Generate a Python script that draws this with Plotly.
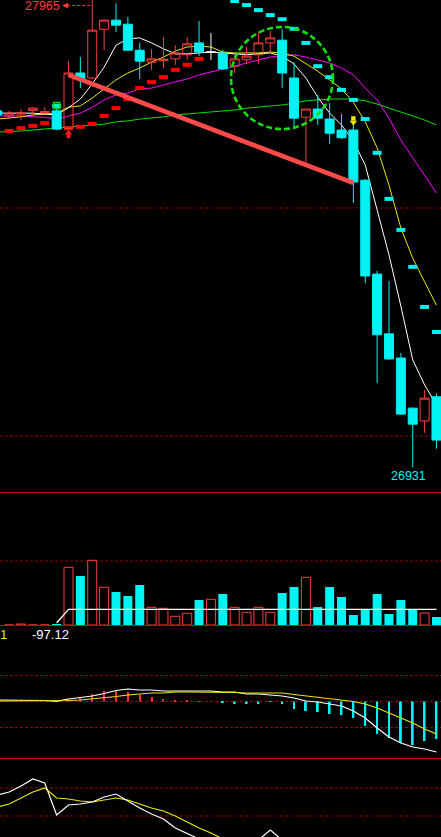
import plotly.graph_objects as go

# ---------------- data ----------------
IDX = list(range(-6, 32))

OPEN = [27713, 27702, 27706, 27714, 27709, 27713,
        27675, 27796, 27785, 27892, 27912, 27903, 27846, 27820, 27823, 27827,
        27836, 27862, 27842, 27840, 27811, 27825, 27836, 27862, 27868, 27785,
        27699, 27717, 27695, 27671, 27671, 27561, 27355, 27224, 27171, 27061,
        27033, 27086]
HIGH = [27715, 27713, 27717, 27721, 27721, 27717,
        27822, 27831, 27965, 27914, 27949, 27919, 27862, 27849, 27875, 27857,
        27875, 27910, 27884, 27847, 27836, 27853, 27884, 27888, 27892, 27820,
        27717, 27748, 27730, 27706, 27682, 27563, 27362, 27340, 27182, 27063,
        27101, 27094]
LOW = [27702, 27695, 27693, 27700, 27708, 27671,
       27673, 27763, 27783, 27846, 27886, 27845, 27783, 27803, 27807, 27814,
       27825, 27833, 27825, 27803, 27796, 27816, 27816, 27840, 27763, 27678,
       27599, 27682, 27640, 27652, 27511, 27335, 27116, 27167, 27046, 26931,
       27007, 26972]
CLOSE = [27704, 27708, 27708, 27719, 27711, 27673,
         27796, 27783, 27890, 27912, 27901, 27846, 27822, 27827, 27826, 27840,
         27860, 27842, 27842, 27805, 27827, 27833, 27862, 27873, 27796, 27697,
         27717, 27697, 27664, 27654, 27557, 27351, 27222, 27169, 27048, 27026,
         27083, 26991]

MA5 = [27708, 27708, 27708, 27708, 27706, 27704,
       27720, 27739, 27772, 27809, 27857, 27871, 27873, 27862, 27849, 27838,
       27838, 27840, 27842, 27840, 27838, 27836, 27838, 27840, 27833, 27816,
       27785, 27743, 27708, 27682, 27647, 27594, 27496, 27397, 27285, 27167,
       27112, 27068]
MA10 = [27695, 27697, 27700, 27704, 27706, 27708,
        27721, 27724, 27741, 27761, 27781, 27796, 27807, 27820, 27831, 27844,
        27853, 27855, 27853, 27842, 27840, 27840, 27840, 27842, 27840, 27833,
        27816, 27800, 27781, 27761, 27732, 27689, 27632, 27550, 27456, 27390,
        27338, 27287]
MA20 = [27702, 27702, 27702, 27700, 27699, 27695,
        27701, 27708, 27721, 27737, 27748, 27752, 27761, 27763, 27770, 27776,
        27783, 27792, 27798, 27805, 27811, 27818, 27825, 27831, 27833, 27836,
        27831, 27825, 27818, 27807, 27792, 27763, 27737, 27697, 27649, 27610,
        27572, 27533]
MA60 = [27667, 27667, 27669, 27671, 27673, 27675,
        27678, 27680, 27682, 27684, 27689, 27691, 27695, 27697, 27700, 27704,
        27706, 27708, 27711, 27713, 27715, 27719, 27721, 27724, 27726, 27730,
        27735, 27737, 27739, 27739, 27739, 27735, 27728, 27719, 27711, 27702,
        27693, 27682]
SAR = [None, 27669, 27675, 27680, 27686, 27724,
       27675, 27678, 27684, 27702, 27719, 27739, 27763, 27776, 27787, 27803,
       27814, 27827, None, None, 27954, 27945, 27934, 27923, 27914, 27893,
       27862, 27811, 27787, 27759, 27737, 27695, 27621, 27520, 27452, 27371,
       27283, 27228]

VOL = [0, 0, 100, 0, 0, 100,
       5770, 4900, 6470, 3770, 3300, 2900, 4000, 1770, 1670, 870,
       1170, 2500, 2570, 3100, 1770, 1270, 1770, 1270, 3200, 3800,
       4770, 1800, 3800, 2800, 1000, 1570, 3100, 1100, 2500, 1570,
       1200, 800]
VOL_MA = [None, None, None, None, None, 200,
          1570, 1570, 1570, 1570, 1570, 1570, 1570, 1570, 1570, 1570,
          1570, 1570, 1570, 1570, 1570, 1570, 1570, 1570, 1570, 1570,
          1570, 1570, 1570, 1570, 1570, 1570, 1570, 1570, 1570, 1570,
          1570, 1570]

DIF = [3.9, 3.9, 3.9, 3.9, 2.6, 0.5,
       6.5, 10.4, 14.2, 20.7, 28.5, 32.4, 29.8, 29.8, 27.2, 27.2,
       27.2, 27.2, 27.2, 24.6, 24.6, 19.4, 19.4, 16.8, 14.2, 9.1,
       1.3, -1.3, -6.5, -11.7, -24.6, -42.7, -68.6, -91.9, -107.5, -117.9,
       -123.0, -130.8]
DEA = [1.3, 1.3, 1.3, 1.3, 1.3, 1.3,
       2.6, 3.9, 6.5, 10.4, 12.9, 16.8, 19.4, 22.0, 22.0, 24.6,
       24.6, 24.6, 24.6, 24.6, 23.3, 22.0, 22.0, 22.0, 22.0, 18.1,
       14.2, 11.7, 7.8, 3.9, 0.0, -6.5, -16.8, -29.8, -42.7, -55.7,
       -71.2, -84.2]
MACD = [0, 0, 0, 0, 0, 0,
        5.7, 10.9, 19.4, 27.2, 29.8, 24.6, 17.6, 11.7, 6.5, 3.9,
        3.9, 1.3, 0, -3.9, -6.5, -6.5, -6.5, -1.3, -6.5, -19.4,
        -24.6, -27.2, -32.4, -35.0, -42.7, -63.5, -84.2, -94.5, -107.5, -112.7,
        -102.3, -97.12]

K = [65.0, 71.4, 84.3, 99.3, 90.7, 22.1,
     43.6, 45.7, 50.0, 60.7, 67.1, 52.1, 37.1, 24.3, 13.6, -5.7,
     -16.4, -29.3] + [None] * 20
D = [39.3, 45.7, 58.6, 71.4, 80.0, 58.6,
     56.4, 52.1, 50.0, 54.3, 58.6, 54.3, 45.7, 37.1, 30.7, 20.0,
     7.1, -5.7, -16.4, -29.3] + [None] * 18
J = [None] * 22 + [-31.4, -10.0, -31.4] + [None] * 13

TREND_IDX = [0, 24]
TREND_PRICE = [27792, 27555]
CIRCLE_IDX = [13.69, 22.28]
CIRCLE_PRICE = [27673, 27897]
BUY_IDX, BUY_PRICE = [0], [27661]
SIG_IDX, SIG_PRICE = [-1], [27725]
SELL_IDX, SELL_PRICE = [24], [27692]
HEADER_LEFT = "1"
HEADER_MACD = "-97.12"

# ---------------- layout geometry ----------------
W, H = 441, 837
X0_PX, STEP_PX = 68.5, 11.87
x_range = [(0 - X0_PX) / STEP_PX, (W - X0_PX) / STEP_PX]
MAIN_BOT, VOL_BOT, MACD_BOT = 492, 625, 758


def frac(py):
    return 1 - py / H


ppx = (27500 - 27000) / (436 - 208)
price_range = [27000 - (MAIN_BOT - 436) * ppx, 27000 + 436 * ppx]
vol_range = [0, (VOL_BOT - MAIN_BOT) * 100]
mpx, mzero = 2.59, 701.5
macd_range = [-(MACD_BOT - mzero) * mpx, (mzero - VOL_BOT) * mpx]
kpx = 60 / 28
kdj_range = [20 - (H - 816) * kpx, 20 + (816 - MACD_BOT) * kpx]

RED = '#FF3B3B'
CYAN = '#00F2F2'
SEP = '#D00000'
DOT = '#9A0000'
YEL = '#E8E800'
FONT = 'Liberation Sans, Arial, sans-serif'

n = len(IDX)
nd = [i for i in range(n) if OPEN[i] != CLOSE[i]]
dj = [i for i in range(n) if OPEN[i] == CLOSE[i]]

fig = go.Figure()

# moving averages (base price axis, below candles)
for ma, col in [(MA60, '#00E000'), (MA20, '#FF00FF'), (MA10, YEL), (MA5, '#FFFFFF')]:
    fig.add_trace(go.Scatter(x=IDX, y=ma, mode='lines', line=dict(color=col, width=1),
                             yaxis='y', hoverinfo='skip'))

# SAR dots
sr = [i for i in range(n) if SAR[i] is not None and SAR[i] < CLOSE[i]]
sc = [i for i in range(n) if SAR[i] is not None and SAR[i] >= CLOSE[i]]
for sel, col in [(sr, '#FF0000'), (sc, CYAN)]:
    fig.add_trace(go.Scatter(x=[IDX[i] for i in sel], y=[SAR[i] for i in sel], mode='markers',
                             marker=dict(symbol='line-ew', size=6.4, color=col,
                                         line=dict(width=4, color=col)),
                             yaxis='y', hoverinfo='skip'))

# candles (overlay axis so they sit above the MA lines)
fig.add_trace(go.Candlestick(
    x=[IDX[i] for i in nd], open=[OPEN[i] for i in nd], high=[HIGH[i] for i in nd],
    low=[LOW[i] for i in nd], close=[CLOSE[i] for i in nd],
    increasing=dict(line=dict(color=RED, width=1), fillcolor='rgba(0,0,0,0)'),
    decreasing=dict(line=dict(color=CYAN, width=1), fillcolor=CYAN),
    whiskerwidth=0, yaxis='y5', hoverinfo='skip'))
fig.add_trace(go.Candlestick(
    x=[IDX[i] for i in dj], open=[OPEN[i] for i in dj], high=[HIGH[i] for i in dj],
    low=[LOW[i] for i in dj], close=[CLOSE[i] for i in dj],
    increasing=dict(line=dict(color='#FFFFFF', width=1), fillcolor='rgba(0,0,0,0)'),
    decreasing=dict(line=dict(color='#FFFFFF', width=1), fillcolor='rgba(0,0,0,0)'),
    whiskerwidth=0, yaxis='y5', hoverinfo='skip'))

# trend line
fig.add_trace(go.Scatter(x=TREND_IDX, y=TREND_PRICE, mode='lines',
                         line=dict(color='#FF4A4A', width=4.5), yaxis='y5', hoverinfo='skip'))

# signal markers
fig.add_trace(go.Scatter(x=BUY_IDX, y=[p + 1.5 * ppx for p in BUY_PRICE], mode='markers',
                         marker=dict(symbol='triangle-up', size=6.5, color='#FF2020'),
                         yaxis='y5', hoverinfo='skip'))
fig.add_trace(go.Scatter(x=BUY_IDX, y=[p - 1.8 * ppx for p in BUY_PRICE], mode='markers',
                         marker=dict(symbol='square', size=3.5, color='#FF2020'),
                         yaxis='y5', hoverinfo='skip'))
fig.add_trace(go.Scatter(x=SELL_IDX, y=[p + 2 * ppx for p in SELL_PRICE], mode='markers',
                         marker=dict(symbol='square', size=4.5, color=YEL),
                         yaxis='y5', hoverinfo='skip'))
fig.add_trace(go.Scatter(x=SELL_IDX, y=[p - 2 * ppx for p in SELL_PRICE], mode='markers',
                         marker=dict(symbol='triangle-down', size=6.5, color=YEL),
                         yaxis='y5', hoverinfo='skip'))
fig.add_trace(go.Scatter(x=SIG_IDX, y=SIG_PRICE, mode='markers',
                         marker=dict(symbol='square-open', size=6, color='#00E000',
                                     line=dict(width=1.5, color='#00E000')),
                         yaxis='y5', hoverinfo='skip'))

# volume
BW = 9 / STEP_PX
vu = [VOL[i] if CLOSE[i] >= OPEN[i] else None for i in range(n)]
vd = [VOL[i] if CLOSE[i] < OPEN[i] else None for i in range(n)]
fig.add_trace(go.Bar(x=IDX, y=vu, width=BW, marker=dict(color='rgba(0,0,0,0)',
                     line=dict(color=RED, width=1)), yaxis='y2', hoverinfo='skip'))
fig.add_trace(go.Bar(x=IDX, y=vd, width=BW, marker=dict(color=CYAN, line=dict(width=0)),
                     yaxis='y2', hoverinfo='skip'))
fig.add_trace(go.Scatter(x=IDX, y=VOL_MA, mode='lines', line=dict(color='#FFFFFF', width=1.3),
                         yaxis='y2', hoverinfo='skip'))

# MACD
mp = [v if v > 0 else None for v in MACD]
mn = [v if v < 0 else None for v in MACD]
fig.add_trace(go.Bar(x=IDX, y=mp, width=0.1, marker=dict(color='#FF3030', line=dict(width=0)),
                     yaxis='y3', hoverinfo='skip'))
fig.add_trace(go.Bar(x=IDX, y=mn, width=0.16, marker=dict(color=CYAN, line=dict(width=0)),
                     yaxis='y3', hoverinfo='skip'))
fig.add_trace(go.Scatter(x=IDX, y=DIF, mode='lines', line=dict(color='#FFFFFF', width=1.2),
                         yaxis='y3', hoverinfo='skip'))
fig.add_trace(go.Scatter(x=IDX, y=DEA, mode='lines', line=dict(color=YEL, width=1.2),
                         yaxis='y3', hoverinfo='skip'))

# KDJ
for s, col in [(D, YEL), (K, '#FFFFFF'), (J, '#FFFFFF')]:
    fig.add_trace(go.Scatter(x=IDX, y=s, mode='lines', line=dict(color=col, width=1.2),
                             yaxis='y4', hoverinfo='skip'))

shapes = []
for yref, vals in [('y', [27500, 27000]), ('y2', [6400]),
                   ('y3', [26 * mpx, 0, -26 * mpx]), ('y4', [80, 20])]:
    for v in vals:
        shapes.append(dict(type='line', xref='paper', x0=0, x1=1, yref=yref, y0=v, y1=v,
                           line=dict(color=DOT, width=1, dash='3px,2px'), layer='below'))
for py in [MAIN_BOT + 0.5, VOL_BOT + 0.5, MACD_BOT + 0.5]:
    shapes.append(dict(type='line', xref='paper', x0=0, x1=1, yref='paper',
                       y0=frac(py), y1=frac(py), line=dict(color=SEP, width=1)))
shapes.append(dict(type='circle', xref='x', yref='y', x0=CIRCLE_IDX[0], x1=CIRCLE_IDX[1],
                   y0=CIRCLE_PRICE[0], y1=CIRCLE_PRICE[1],
                   line=dict(color='#10E010', width=2.6, dash='6px,3px')))

hi_i = IDX[HIGH.index(max(HIGH))]
lo_i = IDX[LOW.index(min(LOW))]
shapes.append(dict(type='line', xref='x', yref='paper',
                   x0=hi_i - 25 / STEP_PX, x1=hi_i - 2 / STEP_PX,
                   y0=frac(5.5), y1=frac(5.5),
                   line=dict(color=RED, width=1, dash='3px,2px')))

annotations = [
    dict(x=hi_i, xref='x', y=frac(5.5), yref='paper', text=f"{max(HIGH):.0f}",
         showarrow=False, xanchor='right', yanchor='middle', xshift=-30,
         font=dict(family=FONT, size=12.5, color=RED)),
    dict(x=hi_i - 30 / STEP_PX, xref='x', y=frac(5.5), yref='paper', text='',
         showarrow=True, ax=7, ay=0, arrowhead=2, arrowsize=1.2, arrowwidth=1,
         arrowcolor=RED),
    dict(x=lo_i, xref='x', y=min(LOW), yref='y', text=f"{min(LOW):.0f}",
         showarrow=False, xanchor='center', yanchor='top', xshift=-4.5, yshift=0,
         font=dict(family=FONT, size=12.5, color=CYAN)),
    dict(x=0, xref='paper', y=frac(634), yref='paper', text=HEADER_LEFT, showarrow=False,
         xanchor='left', yanchor='middle', xshift=-2,
         font=dict(family=FONT, size=13, color=YEL)),
    dict(x=30 / W, xref='paper', y=frac(634), yref='paper', text=HEADER_MACD, showarrow=False,
         xanchor='left', yanchor='middle',
         font=dict(family=FONT, size=13, color='#FFFFFF')),
]

fig.update_layout(
    width=W, height=H, margin=dict(l=0, r=0, t=0, b=0),
    paper_bgcolor='black', plot_bgcolor='black', showlegend=False,
    barmode='overlay', boxmode='overlay', boxgap=1 - 9 / STEP_PX, boxgroupgap=0,
    xaxis=dict(range=x_range, visible=False, rangeslider=dict(visible=False), fixedrange=True),
    yaxis=dict(domain=[frac(MAIN_BOT), 1], range=price_range, visible=False),
    yaxis5=dict(overlaying='y', range=price_range, visible=False),
    yaxis2=dict(domain=[frac(VOL_BOT), frac(MAIN_BOT)], range=vol_range, visible=False),
    yaxis3=dict(domain=[frac(MACD_BOT), frac(VOL_BOT)], range=macd_range, visible=False),
    yaxis4=dict(domain=[0, frac(MACD_BOT)], range=kdj_range, visible=False),
    shapes=shapes, annotations=annotations,
)

fig.write_html("out.html", config=dict(displayModeBar=False),
               post_script="document.body.style.margin='0';document.body.style.background='black';document.documentElement.style.background='black';")
